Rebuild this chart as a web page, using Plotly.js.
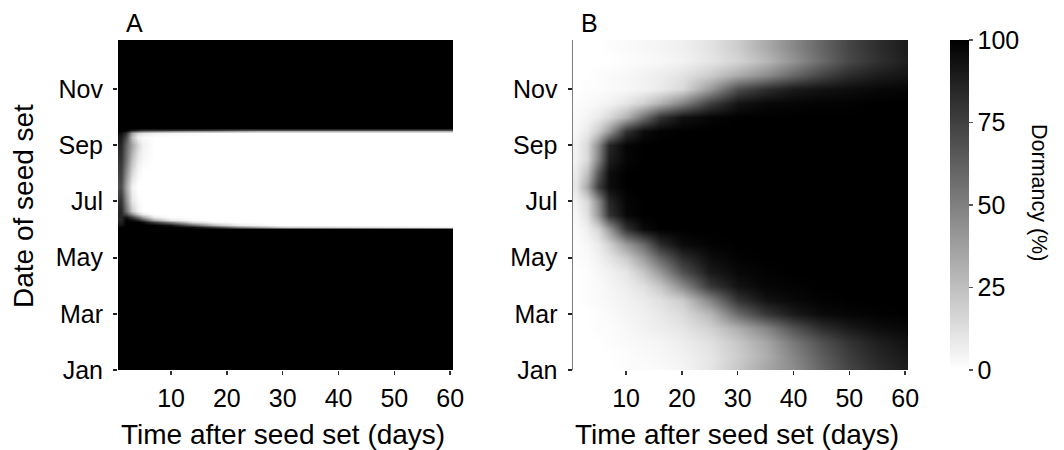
<!DOCTYPE html>
<html>
<head>
<meta charset="utf-8">
<script src="https://cdn.plot.ly/plotly-3.0.1.min.js"></script>
<style>html,body{margin:0;padding:0;background:#fff;}#chart{width:1064px;height:450px;}</style>
</head>
<body>
<div id="chart"></div>
<script>
// ---- data ----
var monthTicks = [1, 3, 5, 7, 9, 11];
var monthLabels = ['Jan', 'Mar', 'May', 'Jul', 'Sep', 'Nov'];
var dayTicks = [10, 20, 30, 40, 50, 60];
var dormancyTicks = [0, 25, 50, 75, 100];

// Panel A: days after seed set (columns) and date of seed set in months (rows)
var daysA = [1, 2, 3, 4, 5, 7, 10, 14, 18, 22, 26, 30, 60];
var seedMonthsA = [1, 6.02, 6.08, 6.15, 6.25, 6.35, 6.45, 6.55, 6.65, 7.0, 7.5, 8.0, 8.5, 9.0, 9.3, 9.44, 9.49, 9.54, 9.6, 12.74];
var dormancyA = [
  [100,100,100,100,100,100,100,100,100,100,100,100,100],
  [100,100,100,100,100,100,100,100,100,100,100,100,100],
  [100,100,100,100,100,100,100,95,75,50,35,20,5],
  [92,100,100,100,100,100,92,60,25,8,3,0,0],
  [88,100,100,100,95,75,50,15,3,0,0,0,0],
  [85,100,95,85,70,35,10,2,0,0,0,0,0],
  [85,92,75,55,35,8,0,0,0,0,0,0,0],
  [85,70,45,20,8,0,0,0,0,0,0,0,0],
  [85,55,20,5,0,0,0,0,0,0,0,0,0],
  [80,45,10,2,0,0,0,0,0,0,0,0,0],
  [70,35,5,0,0,0,0,0,0,0,0,0,0],
  [75,45,15,3,0,0,0,0,0,0,0,0,0],
  [80,55,25,8,3,0,0,0,0,0,0,0,0],
  [85,60,35,15,5,0,0,0,0,0,0,0,0],
  [90,70,25,5,2,0,0,0,0,0,0,0,0],
  [95,80,35,15,10,5,3,2,0,0,0,0,0],
  [100,95,70,60,55,50,45,40,40,35,30,30,30],
  [100,100,90,85,80,80,80,78,75,70,70,70,70],
  [100,100,100,100,100,100,100,100,100,100,100,100,100],
  [100,100,100,100,100,100,100,100,100,100,100,100,100]
];

// Panel B
var daysB = [1, 3, 5, 7, 10, 13, 16, 20, 25, 30, 35, 40, 45, 50, 55, 60];
var seedMonthsB = [1, 1.5, 2, 2.5, 3, 3.5, 4, 4.5, 5, 5.5, 6, 6.5, 7, 7.5, 8, 8.5, 9, 9.5, 10, 10.5, 11, 11.5, 12, 12.5];
var dormancyB = [
  [0,0,0,0,1,1,2,4,10,22,35,45,60,73,82,88],
  [0,0,0,0,1,2,3,5,10,20,32,48,63,76,85,90],
  [0,0,0,1,2,3,4,7,12,22,35,53,68,80,88,93],
  [0,0,1,1,3,5,7,10,18,32,48,68,82,90,95,97],
  [0,0,1,2,4,6,9,14,28,58,78,90,96,98,99,100],
  [0,1,2,3,5,8,12,20,48,80,93,97,99,100,100,100],
  [0,1,2,4,7,12,22,45,78,93,98,99,100,100,100,100],
  [0,1,3,5,10,22,40,68,90,97,99,100,100,100,100,100],
  [1,2,5,10,20,38,60,82,95,99,100,100,100,100,100,100],
  [1,3,8,18,40,58,83,96,99,100,100,100,100,100,100,100],
  [2,6,16,40,80,96,100,100,100,100,100,100,100,100,100,100],
  [3,12,40,80,97,100,100,100,100,100,100,100,100,100,100,100],
  [5,15,45,85,98,100,100,100,100,100,100,100,100,100,100,100],
  [10,35,75,95,100,100,100,100,100,100,100,100,100,100,100,100],
  [8,25,65,95,100,100,100,100,100,100,100,100,100,100,100,100],
  [5,15,48,88,98,100,100,100,100,100,100,100,100,100,100,100],
  [5,15,45,85,98,100,100,100,100,100,100,100,100,100,100,100],
  [3,8,20,40,80,95,99,100,100,100,100,100,100,100,100,100],
  [2,4,8,15,30,55,80,93,98,100,100,100,100,100,100,100],
  [1,2,3,5,10,18,30,48,75,92,97,98,99,99,100,100],
  [0,1,1,2,3,5,8,15,40,70,82,90,93,95,97,98],
  [0,0,1,2,3,5,7,11,20,33,45,60,73,83,89,92],
  [0,0,0,0,1,2,3,5,10,17,28,43,58,72,81,88],
  [0,0,0,1,2,3,4,6,11,20,33,47,60,73,82,89]
];

// ---- chart ----
var W = 1064, H = 450;
var FONT = 'Liberation Sans, Arial, sans-serif';
var grays = [[0, '#ffffff'], [1, '#000000']];
var px = function (x) { return x / W; };
var py = function (y) { return 1 - y / H; };

var traceA = {
  type: 'heatmap', x: daysA, y: seedMonthsA, z: dormancyA,
  xaxis: 'x', yaxis: 'y', zmin: 0, zmax: 100, zsmooth: 'best',
  colorscale: grays, showscale: false, hoverinfo: 'skip'
};
var traceB = {
  type: 'heatmap', x: daysB, y: seedMonthsB, z: dormancyB,
  xaxis: 'x2', yaxis: 'y2', zmin: 0, zmax: 100, zsmooth: 'best',
  colorscale: grays, showscale: true, hoverinfo: 'skip',
  colorbar: {
    x: px(950), xanchor: 'left', xpad: 0,
    y: py(370), yanchor: 'bottom', ypad: 0,
    len: 330 / H, lenmode: 'fraction',
    thickness: 19, thicknessmode: 'pixels',
    outlinewidth: 0,
    tickmode: 'array', tickvals: dormancyTicks,
    ticks: 'outside', ticklen: 4, tickcolor: '#555', tickwidth: 1.5,
    tickfont: {family: FONT, size: 25, color: '#000'}
  }
};

function xAxis(d0, d1, anchor) {
  return {
    domain: [px(d0), px(d1)], anchor: anchor, range: [0.5, 60.5],
    tickmode: 'array', tickvals: dayTicks,
    ticks: 'outside', ticklen: 4, tickwidth: 1.5, tickcolor: '#333',
    ticklabelstandoff: 2,
    showgrid: false, zeroline: false, showline: false,
    tickfont: {family: FONT, size: 25, color: '#000'}
  };
}
function yAxis(anchor, line) {
  return {
    domain: [py(370), py(40)], anchor: anchor, range: [1, 12.74],
    tickmode: 'array', tickvals: monthTicks, ticktext: monthLabels,
    ticks: 'outside', ticklen: 4, tickwidth: 2, tickcolor: '#222',
    ticklabelstandoff: 5,
    showgrid: false, zeroline: false,
    showline: line, linecolor: '#808080', linewidth: 1.5,
    tickfont: {family: FONT, size: 25, color: '#000'}
  };
}

function ann(text, x, y, size, angle) {
  return {text: text, xref: 'paper', yref: 'paper', x: px(x), y: py(y),
    xanchor: 'center', yanchor: 'middle', showarrow: false, textangle: angle || 0,
    font: {family: FONT, size: size, color: '#000'}};
}

var layout = {
  width: W, height: H,
  margin: {l: 0, r: 0, t: 0, b: 0},
  paper_bgcolor: '#fff', plot_bgcolor: '#fff',
  showlegend: false,
  font: {family: FONT, color: '#000'},
  xaxis: xAxis(118, 453, 'y'),
  yaxis: yAxis('x', false),
  xaxis2: xAxis(573, 908, 'y2'),
  yaxis2: yAxis('x2', true),
  annotations: [
    ann('A', 134.5, 23, 25),
    ann('B', 589, 23, 25),
    ann('Date of seed set', 23, 206, 28, -90),
    ann('Time after seed set (days)', 283, 434, 28),
    ann('Time after seed set (days)', 737, 434, 28),
    ann('Dormancy (%)', 1039, 192, 21.5, 90)
  ]
};

Plotly.newPlot('chart', [traceA, traceB], layout, {staticPlot: true, displayModeBar: false});
</script>
</body>
</html>
